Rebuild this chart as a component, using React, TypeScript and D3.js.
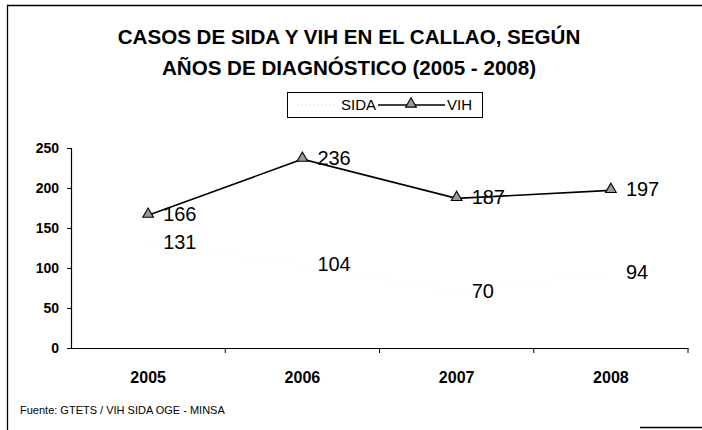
import React, { useRef, useEffect } from 'react';
import * as d3 from 'd3';

const years = ['2005', '2006', '2007', '2008'];
const sida = [131, 104, 70, 94];
const vih = [166, 236, 187, 197];
const yTicks = [0, 50, 100, 150, 200, 250];

const titleLines = [
  'CASOS DE SIDA Y VIH EN EL CALLAO, SEGÚN',
  'AÑOS DE DIAGNÓSTICO (2005 - 2008)',
];
const source = 'Fuente: GTETS / VIH SIDA OGE - MINSA';

const W = 702;
const H = 430;
const FONT = '"Liberation Sans", Arial, sans-serif';

const App: React.FC = () => {
  const ref = useRef<SVGSVGElement | null>(null);

  useEffect(() => {
    if (!ref.current) return;
    const svg = d3.select<SVGSVGElement, unknown>(ref.current);
    svg.selectAll('*').remove();

    // page background
    svg.append('rect').attr('width', W).attr('height', H).attr('fill', '#fff');

    // outer frame (only top and left edges survive in the scan)
    svg.append('path')
      .attr('d', `M7.5,${H} V5.5 H${W}`)
      .attr('fill', 'none')
      .attr('stroke', '#000')
      .attr('stroke-width', 1.3);
    svg.append('line')
      .attr('x1', 640).attr('x2', W).attr('y1', 427.5).attr('y2', 427.5)
      .attr('stroke', '#000').attr('stroke-width', 1.3);

    // title
    svg.append('g')
      .selectAll('text')
      .data(titleLines)
      .enter()
      .append('text')
      .attr('x', 349)
      .attr('y', (_, i) => 44 + i * 31)
      .attr('text-anchor', 'middle')
      .style('font-family', FONT)
      .style('font-weight', 'bold')
      .style('font-size', '20.6px')
      .text(d => d);

    const x0 = 71;
    const x1 = 688;
    const x = d3.scaleBand<string>().domain(years).range([x0, x1]);
    const y = d3.scaleLinear().domain([0, 250]).range([348, 148]);
    const cx = (d: string) => x(d)! + x.bandwidth() / 2;

    // axes
    const yAxis = svg.append('g')
      .attr('transform', `translate(${x0},0)`)
      .call(d3.axisLeft(y).tickValues(yTicks).tickSize(4).tickPadding(8));
    yAxis.select('.domain').attr('stroke', '#000').attr('stroke-width', 1.2);
    yAxis.selectAll('text')
      .style('font-family', FONT)
      .style('font-weight', 'bold')
      .style('font-size', '14px')
      .attr('fill', '#000');

    const xAxis = svg.append('g')
      .attr('transform', `translate(0,${y(0)})`)
      .call(d3.axisBottom(x).tickSize(0).tickPadding(24));
    xAxis.select('.domain').attr('stroke', '#000').attr('stroke-width', 1.2);
    xAxis.selectAll('text')
      .style('font-family', FONT)
      .style('font-weight', 'bold')
      .style('font-size', '16px')
      .attr('fill', '#000');
    // category boundary ticks
    svg.append('g')
      .selectAll('line')
      .data(years)
      .enter()
      .append('line')
      .attr('x1', d => x(d)! + x.bandwidth())
      .attr('x2', d => x(d)! + x.bandwidth())
      .attr('y1', y(0))
      .attr('y2', y(0) + 5)
      .attr('stroke', '#000');

    const line = d3.line<number>()
      .x((_, i) => cx(years[i]))
      .y(d => y(d));

    // SIDA series: almost washed out in the scan
    svg.append('path')
      .datum(sida)
      .attr('d', line)
      .attr('fill', 'none')
      .attr('stroke', '#f0f0f0')
      .attr('stroke-width', 1)
      .attr('stroke-dasharray', '1,3');

    // VIH series
    svg.append('path')
      .datum(vih)
      .attr('d', line)
      .attr('fill', 'none')
      .attr('stroke', '#000')
      .attr('stroke-width', 1.6);

    const tri = d3.symbol().type(d3.symbolTriangle).size(50);
    svg.append('g')
      .selectAll('path')
      .data(vih)
      .enter()
      .append('path')
      .attr('d', tri)
      .attr('transform', (d, i) => `translate(${cx(years[i])},${y(d) - 1})`)
      .attr('fill', '#999')
      .attr('stroke', '#000')
      .attr('stroke-width', 1.1);

    // data labels
    const labels = (vals: number[]) =>
      svg.append('g')
        .selectAll('text')
        .data(vals)
        .enter()
        .append('text')
        .attr('x', (_, i) => cx(years[i]) + 15)
        .attr('y', d => y(d))
        .attr('dy', '0.3em')
        .style('font-family', FONT)
        .style('font-size', '20px')
        .text(d => d);
    labels(vih);
    labels(sida);

    // legend
    const lg = svg.append('g');
    lg.append('rect')
      .attr('x', 287.5).attr('y', 92.5).attr('width', 195).attr('height', 25)
      .attr('fill', '#fff').attr('stroke', '#000').attr('stroke-width', 1);
    lg.append('line')
      .attr('x1', 298).attr('x2', 338).attr('y1', 105).attr('y2', 105)
      .attr('stroke', '#ccc').attr('stroke-dasharray', '1,3');
    lg.append('text')
      .attr('x', 341).attr('y', 105).attr('dy', '0.36em')
      .style('font-family', FONT).style('font-size', '15px')
      .text('SIDA');
    lg.append('line')
      .attr('x1', 378).attr('x2', 445).attr('y1', 105).attr('y2', 105)
      .attr('stroke', '#000').attr('stroke-width', 1.6);
    lg.append('path')
      .attr('d', tri)
      .attr('transform', 'translate(411,104)')
      .attr('fill', '#999').attr('stroke', '#000').attr('stroke-width', 1.1);
    lg.append('text')
      .attr('x', 447).attr('y', 105).attr('dy', '0.36em')
      .style('font-family', FONT).style('font-size', '15px')
      .text('VIH');

    // source note
    svg.append('text')
      .attr('x', 20).attr('y', 414)
      .style('font-family', FONT)
      .style('font-size', '11px')
      .text(source);
  }, []);

  return (
    <svg
      ref={ref}
      width={W}
      height={H}
      style={{ position: 'absolute', left: 0, top: 0 }}
    />
  );
};

export default App;
